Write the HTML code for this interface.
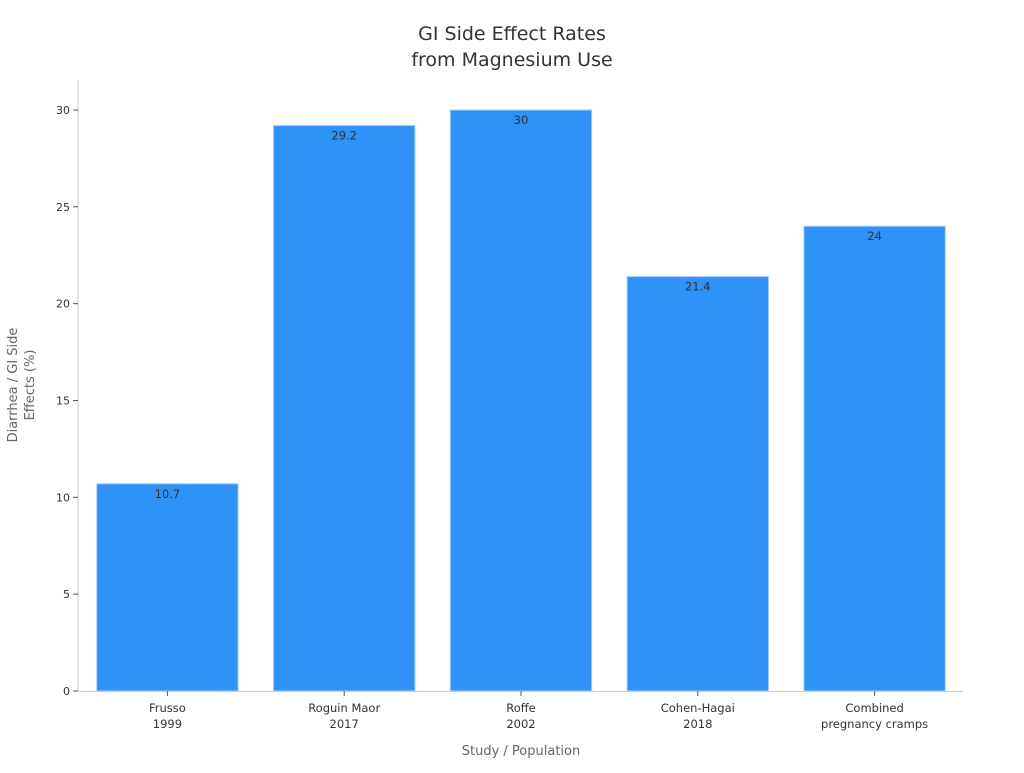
<!DOCTYPE html>
<html><head><meta charset="utf-8"><style>
body{margin:0;background:#fff;}
svg text{font-family:"DejaVu Sans","Liberation Sans",sans-serif;}
</style></head><body>
<svg id="chart" width="1024" height="768" xmlns="http://www.w3.org/2000/svg">
<text x="512" y="40" text-anchor="middle" font-size="19" fill="#333">GI Side Effect Rates</text>
<text x="512" y="66" text-anchor="middle" font-size="19" fill="#333">from Magnesium Use</text>
<text x="521" y="755" text-anchor="middle" font-size="13" fill="#666">Study / Population</text>
<text transform="translate(17,385) rotate(-90)" text-anchor="middle" font-size="13" fill="#666">Diarrhea / GI Side</text>
<text transform="translate(34,385) rotate(-90)" text-anchor="middle" font-size="13" fill="#666">Effects (%)</text>
<g id="plot"></g>
</svg>
<script>
const categories=[["Frusso","1999"],["Roguin Maor","2017"],["Roffe","2002"],["Cohen-Hagai","2018"],["Combined","pregnancy cramps"]];
const values=[10.7,29.2,30,21.4,24];
const yTicks=[0,5,10,15,20,25,30];
const NS="http://www.w3.org/2000/svg";
const X0=79,X1=963,Y0=691,Y30=110,YMAX=30;
const band=(X1-X0)/categories.length;
const y=v=>Y0-(v/YMAX)*(Y0-Y30);
const xb=i=>X0+band*i;
const g=document.getElementById('plot');
function mk(t,a){const e=document.createElementNS(NS,t);for(const k in a)e.setAttribute(k,a[k]);g.appendChild(e);return e;}
let ax=mk('line',{x1:X0-1,x2:X0-1,y1:80,y2:Y0,stroke:'#ccc'});


let bx=mk('line',{x1:X0-1,x2:X1,y1:Y0+0.5,y2:Y0+0.5,stroke:'#ccc'});


yTicks.forEach(t=>{
 const l=mk('line',{x1:X0-6,x2:X0-1,y1:y(t),y2:y(t),stroke:'#555'});
 
 
 const tx=mk('text',{x:X0-9,y:y(t)+4,'text-anchor':'end','font-size':11,fill:'#333'});
 tx.textContent=t;
 
 
});
values.forEach((v,i)=>{
 const bw=band*0.8,bxp=xb(i)+band*0.1;
 const r=mk('rect',{x:bxp,y:y(v),width:bw,height:Y0-y(v),fill:'#2f92f7',stroke:'#a9d0fb','stroke-width':1});
 
 
 const lb=mk('text',{x:xb(i)+band/2,y:y(v)+14,'text-anchor':'middle','font-size':11.5,fill:'#333'});
 lb.textContent=v;
 
 
 const tk=mk('line',{x1:xb(i)+band/2,x2:xb(i)+band/2,y1:Y0,y2:Y0+5,stroke:'#555'});
 
 
 categories[i].forEach((s,j)=>{
  const t=mk('text',{x:xb(i)+band/2,y:712+j*16,'text-anchor':'middle','font-size':11.5,fill:'#333'});
  t.textContent=s;
  
  
 });
});
</script>
</body></html>
